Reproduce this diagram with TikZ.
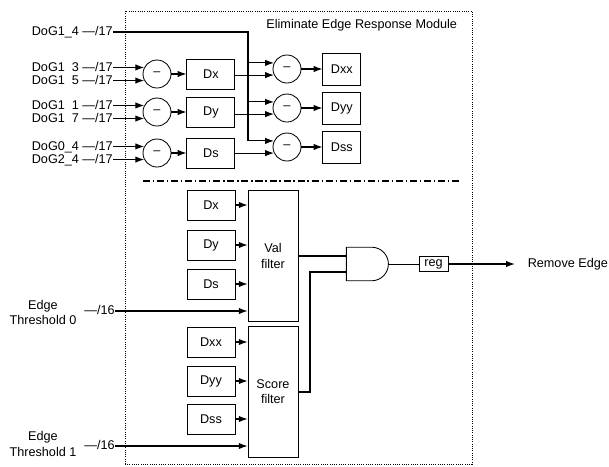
\documentclass[tikz,border=0pt]{standalone}
\usepackage{fontspec}
\setmainfont{Liberation Sans}
\usetikzlibrary{shapes.gates.logic.US,positioning,arrows.meta}

\begin{document}
\begin{tikzpicture}[every node/.style={font=\fontsize{9}{10.8}\selectfont},
  >={Latex[length=2.2mm,width=1.6mm]},
  wire/.style={line width=0.75pt},
  sub/.style={draw,circle,minimum size=0.7cm,inner sep=0pt,line width=0.6pt},
  dbox/.style={draw,minimum width=1.2cm,minimum height=0.75cm,inner sep=0pt,line width=0.6pt},
  ddbox/.style={draw,minimum width=0.95cm,minimum height=0.8cm,inner sep=0pt,line width=0.6pt},
  filt/.style={draw,minimum width=1.25cm,minimum height=3.28cm,align=center,inner sep=0pt,line width=0.6pt},
  lbl/.style={anchor=east,inner sep=0pt,text height=0.55em,text depth=0pt}]
  \useasboundingbox (0,0) rectangle (15.225,11.65);
  % module frame
  \draw[densely dotted,line width=0.6pt] (3.125,0.05) rectangle (11.8,11.375);
  \node[anchor=east] (ttl) at (11.55,11.025) {Eliminate Edge Response Module};

  % first differences
  \node[sub] (c1) at (3.925,9.8) {--};
  \node[sub] (c2) at (3.925,8.85) {--};
  \node[sub] (c3) at (3.925,7.825) {--};
  \node[dbox,right=0.375cm of c1] (dx) {Dx};
  \node[dbox,right=0.375cm of c2] (dy) {Dy};
  \node[dbox,right=0.375cm of c3] (ds) {Ds};
  \coordinate (lx) at (2.825,0);
  \node[lbl] (g13) at (c1.153 -| lx) {DoG1\phantom{\_}3 ---/17};
  \node[lbl] (g15) at (c1.207 -| lx) {DoG1\phantom{\_}5 ---/17};
  \node[lbl] (g11) at (c2.153 -| lx) {DoG1\phantom{\_}1 ---/17};
  \node[lbl] (g17) at (c2.207 -| lx) {DoG1\phantom{\_}7 ---/17};
  \node[lbl] (g04) at (c3.153 -| lx) {DoG0\_4 ---/17};
  \node[lbl] (g24) at (c3.207 -| lx) {DoG2\_4 ---/17};
  \draw[wire,->] (g13.east) -- (c1.153);
  \draw[wire,->] (g15.east) -- (c1.207);
  \draw[wire,->] (g11.east) -- (c2.153);
  \draw[wire,->] (g17.east) -- (c2.207);
  \draw[wire,->] (g04.east) -- (c3.153);
  \draw[wire,->] (g24.east) -- (c3.207);
  \draw[wire,->] (c1) -- (dx);
  \draw[wire,->] (c2) -- (dy);
  \draw[wire,->] (c3) -- (ds);

  % second differences
  \node[sub] (s1) at (7.175,9.925) {--};
  \node[sub] (s2) at (7.175,8.95) {--};
  \node[sub] (s3) at (7.175,7.975) {--};
  \node[ddbox,right=0.525cm of s1] (dxx) {Dxx};
  \node[ddbox,right=0.525cm of s2] (dyy) {Dyy};
  \node[ddbox,right=0.525cm of s3] (dss) {Dss};
  \node[lbl] (g14) at (2.825,10.85) {DoG1\_4 ---/17};
  \coordinate (bus) at (6.2,0);
  \draw[wire,->] (g14.east) -| (bus |- s3.155) -- (s3.155);
  \draw[wire,->] (bus |- s1.155) -- (s1.155);
  \draw[wire,->] (bus |- s2.155) -- (s2.155);
  \draw[wire,->] (dx.east |- s1.205) -- (s1.205);
  \draw[wire,->] (dy.east |- s2.205) -- (s2.205);
  \draw[wire,->] (ds.east |- s3.205) -- (s3.205);
  \draw[wire,->] (s1) -- (dxx);
  \draw[wire,->] (s2) -- (dyy);
  \draw[wire,->] (s3) -- (dss);

  \draw[line width=0.75pt,dash pattern=on 5pt off 2pt on 1pt off 2pt] (3.575,7.125) -- (11.55,7.125);

  % filters
  \node[filt] (vf) at (6.825,5.25) {Val\\filter};
  \node[filt] (sf) at (6.825,1.85) {Score\\filter};
  \node[dbox] (vdx) at (5.275,6.525) {Dx};
  \node[dbox] (vdy) at (5.275,5.525) {Dy};
  \node[dbox] (vds) at (5.275,4.55) {Ds};
  \node[dbox] (sdxx) at (5.275,3.1) {Dxx};
  \node[dbox] (sdyy) at (5.275,2.125) {Dyy};
  \node[dbox] (sdss) at (5.275,1.175) {Dss};
  \foreach \b/\f in {vdx/vf,vdy/vf,vds/vf,sdxx/sf,sdyy/sf,sdss/sf}
    \draw[wire,->] (\b) -- (\b -| \f.west);
  \node[lbl] (t0) at (2.875,3.875) {---/16};
  \node[lbl] (t1) at (2.875,0.5) {---/16};
  \node[align=center] (e0) at (1.075,3.84) {Edge\\Threshold 0};
  \node[align=center] (e1) at (1.075,0.55) {Edge\\Threshold 1};
  \draw[wire,->] (t0.east) -- (t0.east -| vf.west);
  \draw[wire,->] (t1.east) -- (t1.east -| sf.west);

  % decision
  \node[and gate US,draw,logic gate inputs=nn,minimum height=0.8cm,minimum width=1.05cm,inner sep=0pt,line width=0.6pt] (ag) at (9.15,5.05) {};
  \coordinate (ain1) at ([yshift=0.2cm]ag.west);
  \coordinate (ain2) at ([yshift=-0.2cm]ag.west);
  \coordinate (sx) at (7.75,0);
  \draw[wire] (ain1) -- (ain1 -| vf.east);
  \draw[wire] (sf.east) -| (sx |- ain2) -- (ain2);
  \node[draw,minimum width=0.725cm,minimum height=0.375cm,inner sep=0pt,line width=0.6pt] (reg) at (10.84,5.05) {reg};
  \draw[line width=0.5pt] (ag.output) -- (reg);
  \node[anchor=west] (rmv) at (13.07,5.05) {Remove Edge};
  \draw[wire,->,shorten >=2mm] (reg) -- (rmv);
\end{tikzpicture}
\end{document}
